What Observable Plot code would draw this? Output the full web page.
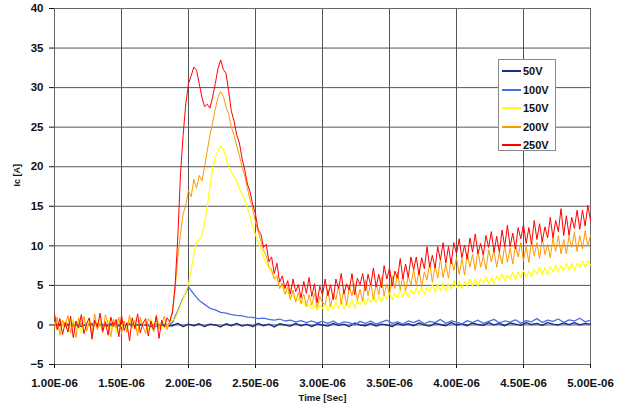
<!DOCTYPE html>
<html>
<head>
<meta charset="utf-8">
<script src="https://cdn.jsdelivr.net/npm/d3@7"></script>
<script src="https://cdn.jsdelivr.net/npm/@observablehq/plot@0.6"></script>
<style>
  body { margin: 0; background: #fff; }
  #wrap { position: relative; width: 621px; height: 409px; font-family: "Liberation Sans", Arial, sans-serif; }
  #wrap svg text { font-weight: bold; }
  #legend { position: absolute; left: 498px; top: 59px; width: 58px; height: 92px; box-sizing: border-box;
            border: 1px solid #8a8a8a; background: #fff; }
  #legend .item { position: absolute; left: 0; height: 14px; width: 56px; }
  #legend .sw { position: absolute; left: 3px; top: 6px; width: 19px; height: 2px; }
  #legend .lb { position: absolute; left: 24px; top: 0; font-size: 11px; font-weight: bold; line-height: 14px; color: #111; }
</style>
</head>
<body>
<div id="wrap"></div>
<script>
// ---- series names & colours ----
const seriesNames = ["50V", "100V", "150V", "200V", "250V"];
const seriesColors = ["#1c2a8a", "#4a6ee8", "#ffff00", "#ff9900", "#ff0000"];

// ---- axis ticks ----
const xTicks = [1.0e-6, 1.5e-6, 2.0e-6, 2.5e-6, 3.0e-6, 3.5e-6, 4.0e-6, 4.5e-6, 5.0e-6];
const xTickLabels = ["1.00E-06", "1.50E-06", "2.00E-06", "2.50E-06", "3.00E-06", "3.50E-06", "4.00E-06", "4.50E-06", "5.00E-06"];
const yTicks = [-5, 0, 5, 10, 15, 20, 25, 30, 35, 40];

// ---- sampling: start time and sample spacing (s) ----
const tStart = 1.0e-6;
const fineStep = 0.02e-6;   // 150V, 200V, 250V
const coarseStep = 0.04e-6; // 50V, 100V

// ---- Ic [A] ----
const v50 = [
  0.0, 0.1, -0.1, 0.1, 0.0, -0.2, 0.1, 0.0, 0.1, -0.1, 0.0, 0.2, -0.1, 0.0, 0.1, -0.1, 0.1, 0.0, -0.2, 0.1, 0.0, -0.1,
  -0.1, 0.2, -0.2, 0.1, -0.1, 0.15, -0.2, 0.1, 0.0, -0.25,
  0.15, -0.1, 0.2, -0.15, 0.05, -0.2, 0.2, -0.1, 0.1, -0.25,
  0.15, 0.0, -0.15, 0.2, -0.1, 0.1, -0.2, 0.15, 0.0, -0.15,
  0.2, -0.05, 0.1, -0.2, 0.25, 0.0, -0.1, 0.2, -0.15, 0.1,
  0.0, -0.2, 0.2, -0.05, 0.15, -0.1, 0.25, 0.0, -0.15, 0.2,
  0.05, -0.1, 0.3, 0.0, 0.15, -0.1, 0.25, 0.05, -0.05, 0.3,
  0.0, 0.2, -0.1, 0.25, 0.1, -0.05, 0.3, 0.05, 0.2, -0.05,
  0.3, 0.1, 0.0, 0.25, 0.05, 0.3, 0.0, 0.2, 0.1
];
const v100 = [
  0.1, -0.1, 0.2, 0.0, -0.2, 0.1, 0.0, 0.2, -0.1, 0.1, -0.2, 0.0, 0.1, -0.1, 0.2, 0.0, -0.1, 0.1, 0.0, -0.2, 0.1, 0.0,
  0.3, 1.8, 3.4, 4.8, 3.9, 3.1, 2.6, 2.1, 1.9, 1.6, 1.5, 1.3, 1.2, 1.15, 1.0, 0.95, 0.8, 0.85, 0.7, 0.6, 0.75, 0.5, 0.6, 0.4, 0.55, 0.3, 0.5, 0.25, 0.45,
  0.2, 0.5, 0.1, 0.4, 0.3, 0.0, 0.45, 0.2, 0.5, 0.1,
  0.35, 0.6, 0.2, 0.4, 0.1, 0.5, 0.3, 0.6, 0.15, 0.45,
  0.3, 0.7, 0.2, 0.5, 0.35, 0.1, 0.55, 0.3, 0.6, 0.2,
  0.45, 0.7, 0.25, 0.5, 0.35, 0.65, 0.2, 0.55, 0.4, 0.8,
  0.3, 0.6, 0.45, 0.75, 0.3, 0.65, 0.5, 0.85, 0.4, 0.6
];
const v150 = [
  0.3, -0.6, 0.8, -0.2, 0.5, -0.9, 0.1, 0.7, -0.5, 0.4,
  -1.0, 0.6, -0.3, 0.9, -0.7, 0.2, -0.4, 0.8, -0.8, 0.3,
  0.6, -0.5, 0.1, -0.9, 0.7, -0.2, 0.5, -0.6, 0.9, -0.4,
  0.2, -0.8, 0.6, -0.1, 0.4, -0.7, 0.8, -0.3, 0.1, 0.5,
  -0.6, 0.3, -0.2, 0.4,
  0.6, 0.8, 1.6, 2.4, 3.3, 4.2, 5.2, 7.0, 9.0, 10.5, 10.7, 11.3, 12.8, 15.0, 17.6, 19.8, 21.2, 22.0, 22.6, 22.2,
  21.2, 20.0, 19.4, 18.8, 18.2, 17.2, 16.5, 15.8, 14.8, 13.6, 12.4, 11.4, 10.5, 9.6, 8.6, 7.8, 7.2, 6.6, 6.0, 5.7,
  5.0, 4.8, 4.2, 4.1, 3.6, 3.7, 3.1, 3.3, 2.6, 2.9, 2.2, 2.6, 2.0, 2.5, 1.9, 2.5, 2.1,
  2.7, 1.8, 2.7, 2.0, 2.9, 2.1, 3.1, 2.0, 2.8, 2.2,
  3.2, 2.1, 3.1, 2.6, 3.4, 2.5, 3.4, 2.8, 3.7, 2.8,
  3.6, 2.9, 3.9, 3.2, 4.0, 3.2, 4.0, 3.4, 4.4, 3.6,
  4.4, 3.5, 4.4, 3.9, 4.7, 3.9, 4.7, 3.9, 4.7, 4.2,
  5.1, 4.2, 5.1, 4.4, 5.3, 4.3, 5.2, 4.5, 5.6, 4.7,
  5.5, 4.6, 5.5, 4.9, 5.8, 4.9, 5.8, 4.9, 5.8, 5.3,
  6.1, 5.2, 6.0, 5.2, 6.2, 5.6, 6.4, 5.6, 6.3, 5.8,
  6.7, 5.7, 6.7, 6.0, 6.9, 6.1, 6.8, 6.1, 7.0, 6.4,
  7.3, 6.4, 7.2, 6.4, 7.4, 6.7, 7.6, 6.7, 7.5, 6.9,
  7.8, 6.9, 7.8, 6.9, 7.8, 7.3, 8.1, 7.3, 8.1, 7.6
];
const v200 = [
  -0.5, 1.0, -1.3, 0.6, -0.2, 1.2, -1.0, 0.4, -1.6, 0.9,
  -0.1, 1.1, -0.8, 0.3, -1.2, 1.4, -0.6, 0.2, -1.0, 1.3,
  0.1, -1.5, 0.7, -0.4, 1.0, -1.1, 0.5, -0.9, 1.2, -0.3,
  0.6, -1.4, 1.0, -0.2, -1.1, 0.8, 0.3, -0.9, 1.3, -0.5,
  0.2, 1.1, -0.6, 0.5,
  1.8, 4.5, 8.5, 11.5, 14.0, 15.2, 17.0, 16.2, 18.4, 17.3, 18.9, 18.2, 20.0, 22.0, 24.0, 25.6, 27.3, 28.8, 29.5, 28.9,
  27.6, 26.6, 25.0, 24.0, 22.6, 21.4, 20.0, 18.8, 17.2, 15.8, 14.6, 13.0, 11.8, 10.6, 9.4, 8.8, 7.4, 7.0, 5.8, 6.2,
  4.6, 5.3, 3.9, 4.8, 3.2, 4.4, 2.9, 4.1, 2.7, 3.9, 2.4, 3.8, 2.5, 4.0, 2.2, 3.6, 2.8,
  2.6, 4.5, 2.3, 4.0, 3.2, 5.0, 2.6, 4.5, 2.5, 4.9,
  3.7, 5.2, 3.1, 4.5, 3.0, 5.7, 3.7, 5.3, 3.2, 5.2,
  3.8, 6.1, 3.7, 5.2, 3.8, 6.2, 4.6, 6.7, 4.4, 6.3,
  4.3, 6.2, 5.0, 7.1, 4.9, 7.0, 4.8, 6.7, 5.7, 7.8,
  5.4, 7.5, 5.9, 8.4, 6.0, 7.7, 5.9, 8.4, 6.9, 8.5,
  6.4, 8.4, 6.3, 9.1, 7.3, 8.9, 6.9, 9.5, 7.3, 8.7,
  7.0, 9.5, 8.0, 9.4, 7.3, 9.2, 7.7, 10.1, 7.9, 9.7,
  7.7, 10.1, 8.6, 10.4, 8.1, 9.9, 7.9, 10.6, 8.7, 10.4,
  8.4, 11.0, 8.9, 10.2, 8.5, 11.0, 9.3, 11.3, 9.0, 10.8,
  9.0, 11.2, 9.8, 11.7, 9.3, 11.3, 9.6, 11.9, 10.0, 11.3
];
const v250 = [
  1.4, -0.6, 0.8, -1.2, 0.3, -0.9, 1.1, -1.6, 0.5, -0.4,
  1.3, -1.1, 0.2, 0.9, -1.8, 0.6, -0.3, 1.5, -0.8, 0.4,
  -1.3, 1.0, -0.2, 0.7, -1.5, 1.2, -0.7, 0.3, -2.0, 0.9,
  -0.5, 1.4, -1.0, 0.2, 0.8, -1.4, 0.5, -0.6, 1.1, -1.7,
  0.6, -0.3, 0.9, 0.4,
  1.5, 5.0, 11.0, 19.0, 24.0, 28.0, 30.5, 31.5, 32.6, 32.2, 30.5, 28.8, 27.6, 27.9, 27.4, 28.8, 30.5, 32.4, 33.5, 32.3,
  31.8, 29.5, 27.0, 25.8, 24.0, 23.0, 21.0, 19.6, 17.8, 16.8, 15.2, 14.0, 12.0, 11.5, 9.8, 10.2, 8.0, 8.6, 6.5, 7.8,
  5.4, 6.2, 4.6, 5.6, 3.9, 5.8, 4.2, 5.1, 3.4, 5.5, 4.0, 6.0, 3.6, 5.2, 2.8, 4.9, 3.8,
  5.8, 3.7, 5.1, 3.2, 5.8, 4.6, 6.5, 3.9, 5.2, 4.4,
  6.5, 3.8, 5.9, 5.1, 6.5, 4.3, 6.4, 5.0, 7.2, 4.8,
  6.4, 4.7, 7.5, 5.8, 7.2, 4.9, 6.8, 5.9, 8.4, 5.8,
  7.7, 6.0, 8.6, 7.0, 8.6, 6.3, 8.5, 7.1, 9.9, 7.3,
  8.8, 7.2, 9.9, 8.2, 10.4, 7.8, 9.9, 7.7, 10.4, 9.0,
  10.9, 8.5, 10.1, 8.3, 11.0, 9.2, 11.5, 9.0, 10.3, 8.8,
  11.3, 9.8, 11.8, 9.2, 11.2, 9.2, 12.0, 9.9, 12.6, 9.9,
  11.6, 9.6, 12.3, 10.9, 12.7, 10.3, 12.3, 10.2, 13.2, 10.8,
  12.8, 10.5, 12.4, 11.0, 13.6, 11.0, 13.2, 11.8, 14.7, 11.3,
  13.8, 11.3, 13.6, 12.2, 14.5, 12.1, 14.5, 12.5, 15.1, 13.2
];

const seriesValues = [v50, v100, v150, v200, v250];
const seriesSteps = [coarseStep, coarseStep, fineStep, fineStep, fineStep];
const seriesWidths = [1.4, 1.3, 1.1, 1, 1];

const seriesData = seriesValues.map((vals, k) =>
  vals.map((v, i) => ({ t: tStart + i * seriesSteps[k], v }))
);

const xLabelOf = new Map(xTicks.map((t, i) => [t, xTickLabels[i]]));

const chart = Plot.plot({
  width: 621,
  height: 409,
  marginLeft: 54,
  marginRight: 31,
  marginTop: 8,
  marginBottom: 45,
  x: { domain: [1.0e-6, 5.0e-6] },
  y: { domain: [-5, 40] },
  style: { fontFamily: "'Liberation Sans', Arial, sans-serif", fontWeight: "bold", color: "#111", background: "#fff" },
  marks: [
    Plot.gridX(xTicks, { stroke: "#555", strokeOpacity: 1 }),
    Plot.gridY(yTicks, { stroke: "#555", strokeOpacity: 1 }),
    Plot.frame({ stroke: "#666" }),
    ...seriesData.map((d, k) =>
      Plot.line(d, { x: "t", y: "v", stroke: seriesColors[k], strokeWidth: seriesWidths[k] })
    ),
    Plot.axisX(xTicks, { tickSize: 4, tickPadding: 10, fontSize: 11.5, fontWeight: "bold", tickFormat: d => xLabelOf.get(d), label: null }),
    Plot.axisY(yTicks, { tickSize: 5, tickPadding: 6, fontSize: 11.5, fontWeight: "bold", label: null }),
    Plot.text(["Time [Sec]"], { frameAnchor: "bottom", dy: 36, fontSize: 9.5, fontWeight: "bold" }),
    Plot.text(["Ic [A]"], { frameAnchor: "left", dx: -37, rotate: -90, fontSize: 9, fontWeight: "bold" })
  ]
});

const wrap = document.getElementById("wrap");
wrap.appendChild(chart);
d3.select(chart).selectAll("text").style("font-weight", "bold");

// legend
const legend = document.createElement("div");
legend.id = "legend";
seriesNames.forEach((name, i) => {
  const item = document.createElement("div");
  item.className = "item";
  item.style.top = (4 + i * 18.6) + "px";
  const sw = document.createElement("div");
  sw.className = "sw";
  sw.style.background = seriesColors[i];
  const lb = document.createElement("div");
  lb.className = "lb";
  lb.textContent = name;
  item.appendChild(sw);
  item.appendChild(lb);
  legend.appendChild(item);
});
wrap.appendChild(legend);
</script>
</body>
</html>
